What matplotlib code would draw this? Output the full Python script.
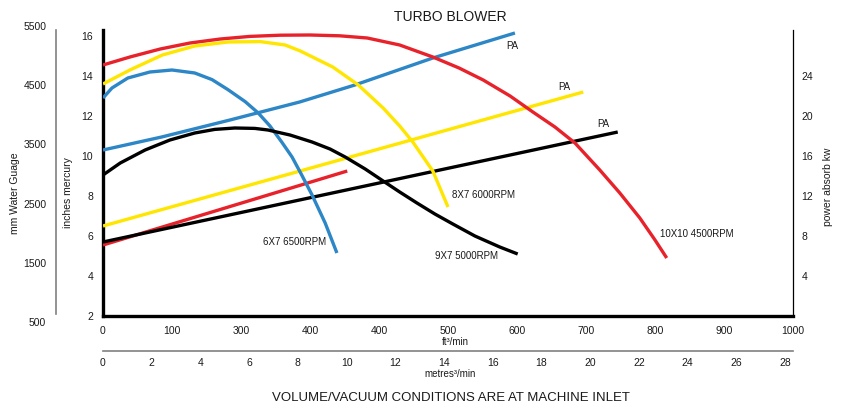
import matplotlib.pyplot as plt

plt.rcParams['font.family'] = ['Liberation Sans', 'DejaVu Sans']

W, H = 843, 408

# pressure curves (ft3/min, inches mercury)
x_6x7 = [0, 13, 36, 68, 100, 133, 158, 181, 206, 225, 242, 259, 274, 288, 303, 322, 339]
y_6x7 = [12.9, 13.4, 13.9, 14.2, 14.3, 14.15, 13.82, 13.32, 12.72, 12.15, 11.5, 10.7, 9.95,
         9.05, 8.05, 6.65, 5.15]

x_8x7 = [0, 39, 86, 133, 181, 228, 264, 286, 333, 370, 406, 430, 449, 478, 500]
y_8x7 = [13.6, 14.3, 15.05, 15.5, 15.7, 15.72, 15.55, 15.25, 14.45, 13.55, 12.4, 11.5, 10.7,
         9.25, 7.45]

x_9x7 = [0, 25, 61, 97, 133, 162, 191, 220, 239, 271, 303, 329, 351, 380, 406, 430, 455,
         481, 507, 539, 575, 601]
y_9x7 = [9.05, 9.65, 10.3, 10.8, 11.15, 11.33, 11.4, 11.38, 11.3, 11.05, 10.7, 10.35, 9.95,
         9.35, 8.75, 8.2, 7.65, 7.1, 6.6, 6.0, 5.45, 5.1]

x_10x10 = [0, 39, 83, 126, 170, 213, 257, 300, 343, 383, 430, 478, 516, 551, 590, 623, 655,
           684, 720, 749, 778, 800, 817]
y_10x10 = [14.55, 14.95, 15.35, 15.65, 15.85, 15.98, 16.04, 16.05, 16.01, 15.9, 15.55, 14.95,
           14.4, 13.8, 13.0, 12.2, 11.45, 10.65, 9.3, 8.15, 6.9, 5.8, 4.9]

# power absorbed lines (ft3/min, kw)
pa_x_6x7 = [0, 85, 184, 285, 365, 478, 597]
pa_y_6x7 = [16.6, 17.9, 19.6, 21.4, 23.1, 25.8, 28.3]
pa_x_8x7 = [0, 696]
pa_y_8x7 = [9.0, 22.4]
pa_x_9x7 = [0, 746]
pa_y_9x7 = [7.4, 18.4]
pa_x_10x10 = [0, 354]
pa_y_10x10 = [7.1, 14.5]

ft_ticks = [0, 100, 200, 300, 400, 500, 600, 700, 800, 900, 1000]
ft_labels = ['0', '100', '300', '400', '400', '500', '600', '700', '800', '900', '1000']
m3_ticks = list(range(0, 29, 2))
in_ticks = list(range(2, 17, 2))
kw_ticks = [4, 8, 12, 16, 20, 24]
mm_ticks = [500, 1500, 2500, 3500, 4500, 5500]

RED = '#e8222b'
YEL = '#ffe600'
BLU = '#2d86c6'
BLK = '#000000'
GREY = '#808080'
TXT = '#1a1a1a'
lw = 2.4

fig = plt.figure(figsize=(W / 100, H / 100), dpi=100)

ax = fig.add_axes([103 / W, 1 - 316 / H, 690 / W, 286 / H])
ax.set_xlim(0, 1000)
ax.set_ylim(2, 16.3)
ax.set_xticks(ft_ticks)
ax.set_xticklabels(ft_labels)
ax.set_yticks(in_ticks)
ax.tick_params(length=0, labelsize=7.5, pad=7, labelcolor=TXT)
for s in ['top', 'right']:
    ax.spines[s].set_visible(False)
ax.spines['left'].set_linewidth(2.4)
ax.spines['bottom'].set_linewidth(2.4)

ax2 = ax.twinx()
ax2.set_ylim(0, 28.6)
ax2.set_yticks(kw_ticks)
ax2.tick_params(length=0, labelsize=7.5, pad=6, labelcolor=TXT)
for s in ['top', 'left', 'bottom']:
    ax2.spines[s].set_visible(False)
ax2.spines['right'].set_linewidth(0.9)

kw = dict(lw=lw, solid_capstyle='butt', solid_joinstyle='round')
ax2.plot(pa_x_10x10, pa_y_10x10, color=RED, **kw)
ax2.plot(pa_x_8x7, pa_y_8x7, color=YEL, **kw)
ax2.plot(pa_x_6x7, pa_y_6x7, color=BLU, **kw)
ax2.plot(pa_x_9x7, pa_y_9x7, color=BLK, **kw)
ax2.plot(x_10x10, y_10x10, color=RED, transform=ax.transData, **kw)
ax2.plot(x_8x7, y_8x7, color=YEL, transform=ax.transData, **kw)
ax2.plot(x_6x7, y_6x7, color=BLU, transform=ax.transData, **kw)
ax2.plot(x_9x7, y_9x7, color=BLK, transform=ax.transData, **kw)

fs = 7
ax.text(593, 15.5, 'PA', fontsize=fs, color=TXT, ha='center', va='center')
ax.text(668, 13.45, 'PA', fontsize=fs, color=TXT, ha='center', va='center')
ax.text(725, 11.6, 'PA', fontsize=fs, color=TXT, ha='center', va='center')
ax.text(232, 5.7, '6X7 6500RPM', fontsize=fs, color=TXT, va='center')
ax.text(506, 8.05, '8X7 6000RPM', fontsize=fs, color=TXT, va='center')
ax.text(481, 5.0, '9X7 5000RPM', fontsize=fs, color=TXT, va='center')
ax.text(807, 6.1, '10X10 4500RPM', fontsize=fs, color=TXT, va='center')

# mm water gauge axis
ax_mm = fig.add_axes([56 / W, 1 - 330 / H, 0.0001, 310 / H])
ax_mm.patch.set_visible(False)
ax_mm.set_ylim(365, 5601)
ax_mm.set_yticks(mm_ticks)
ax_mm.set_xticks([])
ax_mm.tick_params(length=0, labelsize=7.5, pad=7, labelcolor=TXT)
for s in ['top', 'right', 'bottom']:
    ax_mm.spines[s].set_visible(False)
ax_mm.spines['left'].set_bounds(635, 5432)
ax_mm.spines['left'].set_color(GREY)
ax_mm.spines['left'].set_linewidth(1.2)

# metres3/min axis
ax_m3 = fig.add_axes([103 / W, 1 - 351 / H, 690 / W, 0.0001])
ax_m3.patch.set_visible(False)
ax_m3.set_xlim(0, 28.32)
ax_m3.set_xticks(m3_ticks)
ax_m3.set_yticks([])
ax_m3.tick_params(length=0, labelsize=7.5, pad=5, labelcolor=TXT)
for s in ['top', 'right', 'left']:
    ax_m3.spines[s].set_visible(False)
ax_m3.spines['bottom'].set_color(GREY)
ax_m3.spines['bottom'].set_linewidth(1.2)

fig.text(455 / W, 1 - 342 / H, 'ft³/min', fontsize=7, color=TXT, ha='center', va='center')
fig.text(450 / W, 1 - 374 / H, 'metres³/min', fontsize=7, color=TXT, ha='center', va='center')
fig.text(15 / W, 1 - 193 / H, 'mm Water Guage', fontsize=7.5, color=TXT, rotation=90,
         ha='center', va='center')
fig.text(68 / W, 1 - 193 / H, 'inches mercury', fontsize=7.5, color=TXT, rotation=90,
         ha='center', va='center')
fig.text(828 / W, 1 - 187 / H, 'power absorb kw', fontsize=7.5, color=TXT, rotation=90,
         ha='center', va='center')
fig.text(450 / W, 1 - 17 / H, 'TURBO BLOWER', fontsize=10, color=TXT, ha='center', va='center')
fig.text(451 / W, 1 - 398 / H, 'VOLUME/VACUUM CONDITIONS ARE AT MACHINE INLET', fontsize=9.5,
         color=TXT, ha='center', va='center')

fig.savefig('out.png', dpi=100)
